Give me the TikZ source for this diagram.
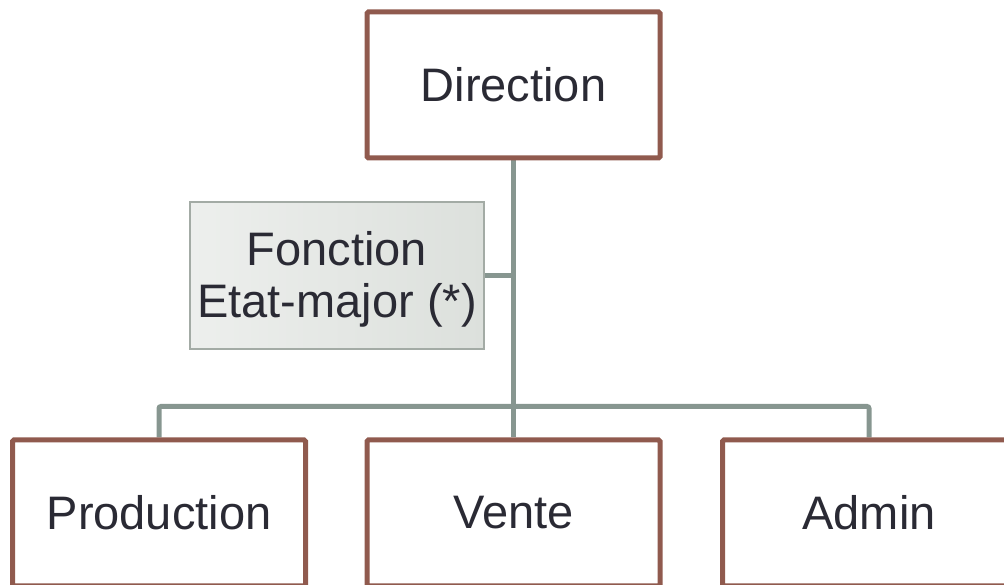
\documentclass[tikz,border=0pt]{standalone}
\usepackage{fontspec}
\setmainfont{Liberation Sans}
\usetikzlibrary{backgrounds}
\definecolor{boxborder}{HTML}{905A4E}
\definecolor{linkcol}{HTML}{879690}
\definecolor{txtcol}{HTML}{2A2A34}
\definecolor{stafflight}{HTML}{EDEFED}
\definecolor{staffdark}{HTML}{DCE0DC}
\definecolor{staffborder}{HTML}{A3ABA5}
\tikzset{
  x=1pt, y=1pt,
  unitbox/.style={draw=boxborder, line width=5pt, fill=white, rounded corners=1.5pt,
    minimum width=293pt, minimum height=146pt, inner sep=0pt,
    text=txtcol, font=\fontsize{47}{56}\selectfont},
  staffbox/.style={draw=staffborder, line width=1.3pt, left color=stafflight, right color=staffdark,
    minimum width=294pt, minimum height=147pt, inner sep=0pt,
    text=txtcol, font=\fontsize{47}{52}\selectfont},
  link/.style={draw=linkcol, line width=5pt, rounded corners=2pt}
}
\begin{document}
\begin{tikzpicture}
\useasboundingbox (0,0) rectangle (1004,585);
\clip (0,0) rectangle (1004,585);
\node[unitbox] (dir) at (513.5,500) {Direction};
\node[unitbox] (prod) at (159,72) {Production};
\node[unitbox] (vente) at (513.5,72) {Vente};
\node[unitbox] (admin) at (869,72) {Admin};
\node[staffbox] (staff) at (337,309.5)
  {\raisebox{0pt}[\dimexpr\height+11.6pt\relax][\depth]{\begin{tabular}{@{}c@{}}Fonction\\Etat-major (*)\end{tabular}}};
\begin{scope}[on background layer]
\path[link] (dir.south) -- (vente.north);
\path[link] (prod.north) -- ++(0,31) coordinate (hl) -| (admin.north);
\path[link] (staff.east) -- (staff.east -| dir.south);
\end{scope}
\end{tikzpicture}
\end{document}
